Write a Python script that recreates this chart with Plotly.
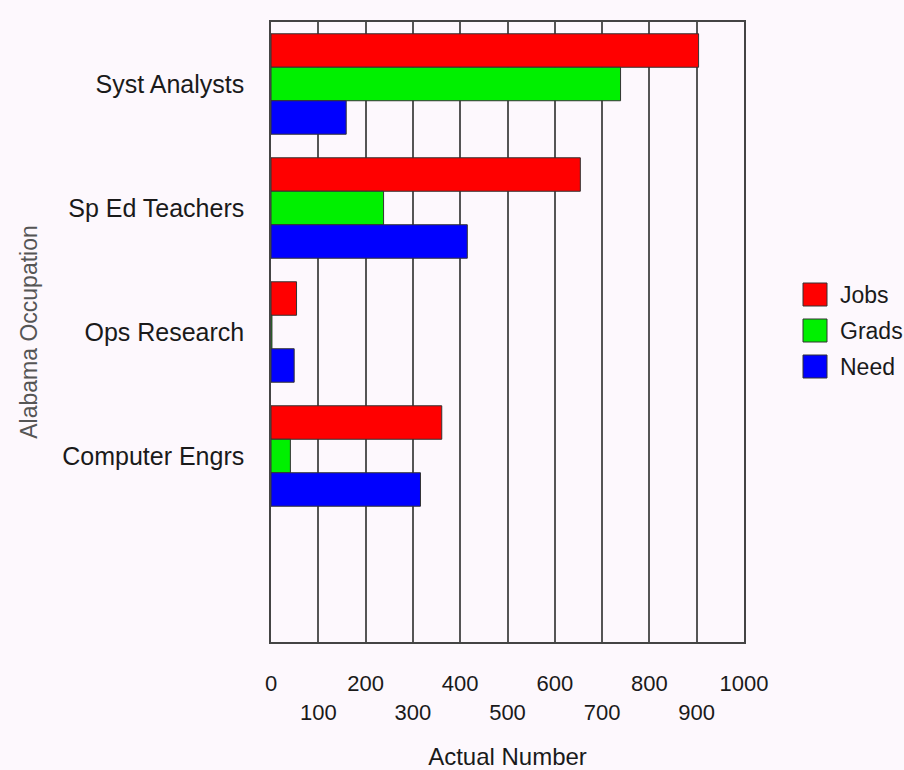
import plotly.graph_objects as go

# ---- data ----
categories = ["Syst Analysts", "Sp Ed Teachers", "Ops Research", "Computer Engrs"]
series_names = ["Jobs", "Grads", "Need"]
jobs = [904, 654, 54, 361]
grads = [739, 238, 2, 41]
need = [159, 415, 49, 316]
x_even_ticks = [0, 200, 400, 600, 800, 1000]
x_odd_ticks = [100, 300, 500, 700, 900]

colors = ["#ff0000", "#00f000", "#0000ff"]
BG = "#fdf8fd"
CLEAR = "rgba(0,0,0,0)"
FONT = "Liberation Sans, Arial, sans-serif"
TXT = "#1a1a1a"
GRID = "#555555"

W, H = 904, 770
L, R, T, B = 271, 744, 22, 642


def px_x(p):
    return (p - L) / (R - L)


def px_y(p):
    return (B - p) / (B - T)


positions = list(range(len(categories)))
values = [jobs, grads, need]

fig = go.Figure()
for name, vals, col in zip(series_names, values, colors):
    fig.add_trace(go.Bar(
        y=positions, x=vals, name=name, orientation="h",
        marker=dict(color=col, line=dict(color="#333333", width=1)),
        showlegend=False,
    ))

# carrier for the second (staggered) row of x tick labels; draws nothing
fig.add_trace(go.Scatter(x=x_odd_ticks, y=[None] * len(x_odd_ticks), xaxis="x2", yaxis="y",
                         mode="markers", showlegend=False, hoverinfo="skip"))

# custom legend with large swatches
shapes = []
annotations = []
legend_tops = [283, 319, 355]
for name, col, top in zip(series_names, colors, legend_tops):
    shapes.append(dict(type="rect", xref="paper", yref="paper",
                       x0=px_x(803), x1=px_x(827), y0=px_y(top + 23), y1=px_y(top),
                       fillcolor=col, line=dict(color="#333333", width=1)))
    annotations.append(dict(xref="paper", yref="paper", x=px_x(838), y=px_y(top + 12),
                            text=name, showarrow=False, xanchor="left", yanchor="middle",
                            font=dict(family=FONT, size=23, color=TXT)))

fig.update_layout(
    width=W, height=H,
    margin=dict(l=L, r=W - R, t=T, b=H - B, autoexpand=False),
    paper_bgcolor=BG, plot_bgcolor=BG,
    barmode="group", bargap=0.19, bargroupgap=0,
    font=dict(family=FONT, color=TXT),
    shapes=shapes, annotations=annotations,
    xaxis=dict(
        range=[0, 1000], tickmode="array", tickvals=x_even_ticks,
        ticktext=[str(v) for v in x_even_ticks],
        ticks="outside", ticklen=21, tickcolor=CLEAR,
        tickfont=dict(size=22, color=TXT),
        showgrid=True, gridcolor=GRID, gridwidth=1.5,
        minor=dict(dtick=100, showgrid=True, gridcolor=GRID, gridwidth=1.5, ticks=""),
        showline=True, linecolor="#444444", linewidth=1.5, mirror=True,
        zeroline=False, fixedrange=True, automargin=False,
    ),
    xaxis2=dict(
        range=[0, 1000], overlaying="x", anchor="y", side="bottom",
        tickmode="array", tickvals=x_odd_ticks,
        ticktext=[str(v) for v in x_odd_ticks],
        ticks="outside", ticklen=51, tickcolor=CLEAR,
        tickfont=dict(size=22, color=TXT),
        showgrid=False, showline=False, zeroline=False, automargin=False,
        title=dict(text="Actual Number", font=dict(size=24, color=TXT), standoff=23),
    ),
    yaxis=dict(
        range=[4.5, -0.5], tickmode="array", tickvals=positions, ticktext=categories,
        ticks="outside", ticklen=20, tickcolor=CLEAR,
        tickfont=dict(size=25, color=TXT),
        showgrid=False, zeroline=False, automargin=False,
        showline=True, linecolor="#444444", linewidth=1.5, mirror=True,
        title=dict(text="Alabama Occupation", font=dict(size=23, color="#555555"), standoff=18),
    ),
)

fig.write_html("out.html", config={"displayModeBar": False},
               post_script="document.body.style.margin='0';")
